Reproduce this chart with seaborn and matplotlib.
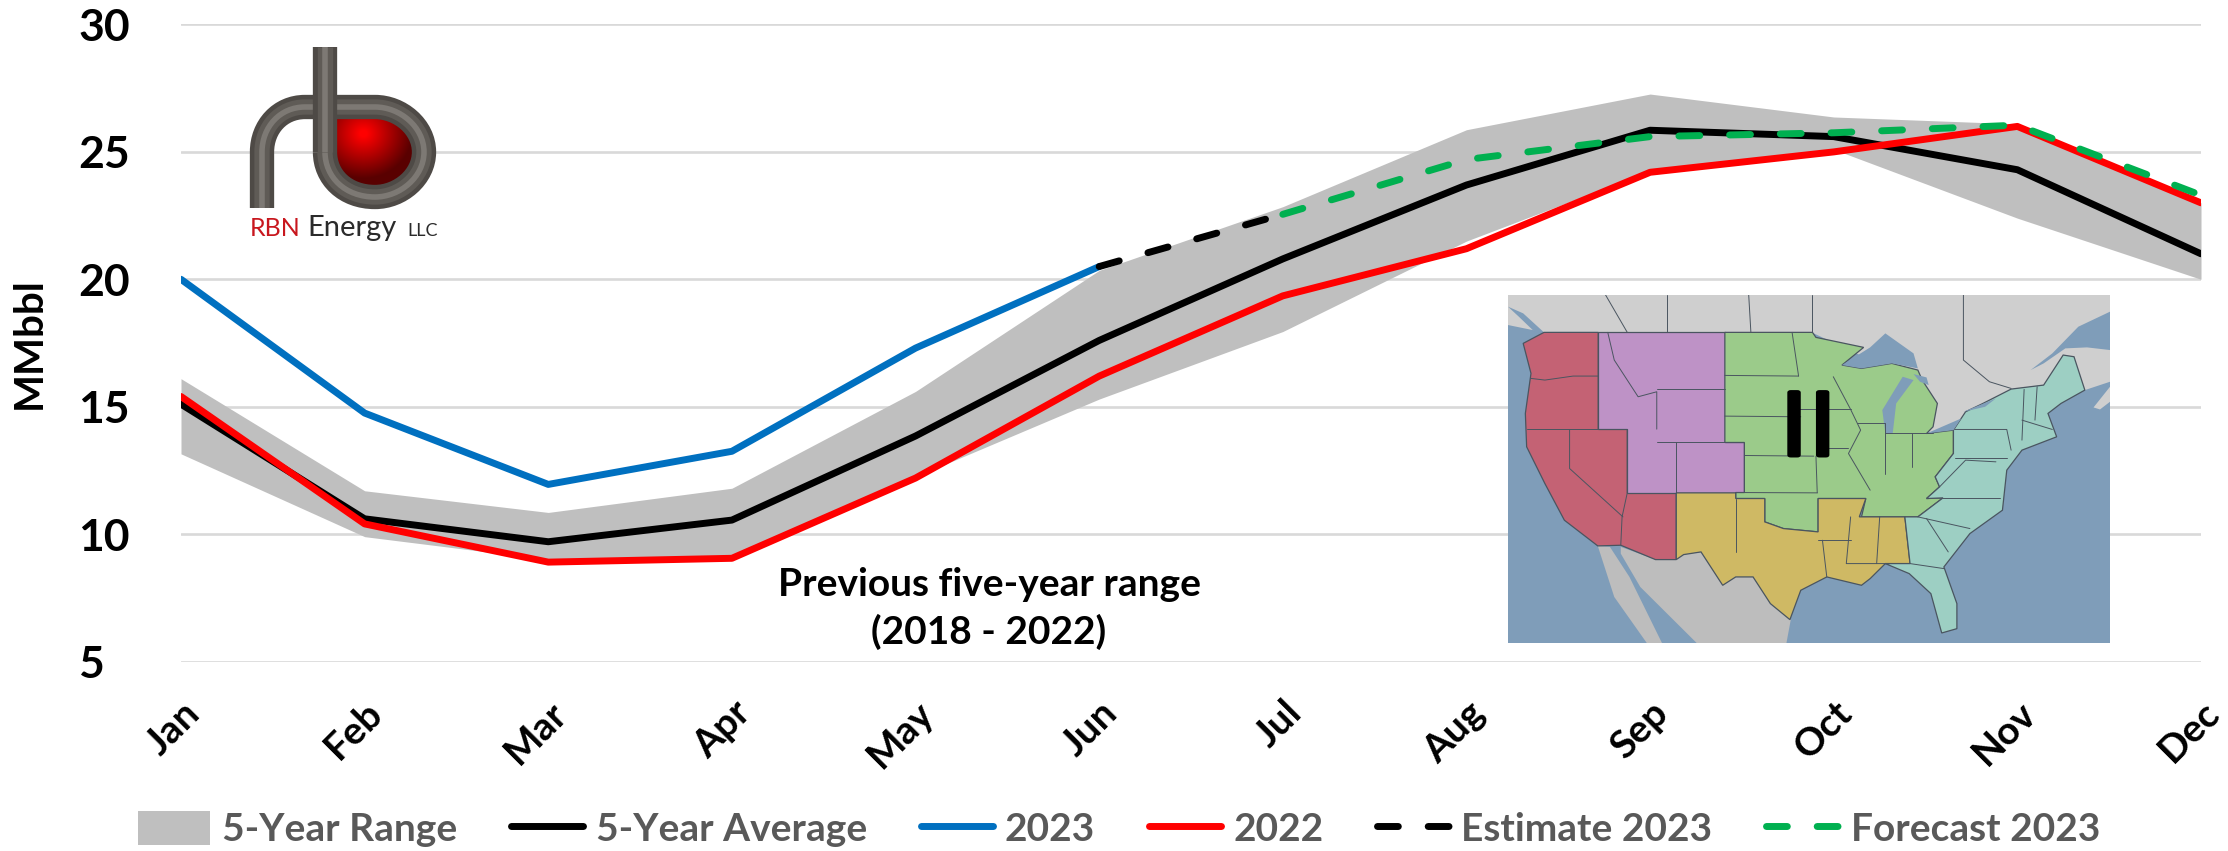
import numpy as np
import pandas as pd
import seaborn as sns
import matplotlib.pyplot as plt
from matplotlib.lines import Line2D
from matplotlib.patches import Patch, Polygon, FancyBboxPatch, PathPatch
from matplotlib.path import Path

sns.set_theme(style="white")
plt.rcParams['font.family'] = ['Lato', 'DejaVu Sans']

months = ['Jan', 'Feb', 'Mar', 'Apr', 'May', 'Jun', 'Jul', 'Aug', 'Sep', 'Oct', 'Nov', 'Dec']
range_high = [16.1, 11.7, 10.85, 11.8, 15.6, 20.35, 22.85, 25.87, 27.27, 26.37, 26.1, 23.0]
range_low = [13.15, 9.9, 9.0, 9.05, 12.25, 15.3, 17.95, 21.5, 24.25, 25.1, 22.4, 20.0]
avg_5yr = [15.1, 10.6, 9.7, 10.55, 13.85, 17.6, 20.8, 23.7, 25.85, 25.6, 24.3, 21.0]
y2022 = [15.4, 10.4, 8.9, 9.05, 12.2, 16.2, 19.35, 21.2, 24.2, 25.0, 26.0, 23.0]
y2023 = [20.0, 14.75, 11.95, 13.25, 17.3, 20.5]
estimate_2023 = [20.5, 22.55]
forecast_2023 = [22.55, 24.7, 25.6, 25.75, 26.05, 23.3]
yticks = [5, 10, 15, 20, 25, 30]

W, H = 2228, 851
GREY = '#bfbfbf'
BLACK = '#000000'
BLUE = '#0070c0'
RED = '#ff0000'
GREEN = '#00b050'
TXT = '#595959'


def px_axes(x0, y0, x1, y1, **kw):
    # axes box given in image pixels, y from the top
    return fig.add_axes([x0 / W, 1 - y1 / H, (x1 - x0) / W, (y1 - y0) / H], **kw)


fig = plt.figure(figsize=(W / 100, H / 100), dpi=100)
ax = px_axes(181, 24.5, 2201, 661.5)

xpos = np.arange(len(months))
ax.fill_between(xpos, range_low, range_high, color=GREY, lw=0, zorder=2)

df = pd.DataFrame({'x': xpos, 'avg': avg_5yr, 'y2022': y2022})
dash = (0, (3, 4.3))
sns.lineplot(data=df, x='x', y='avg', color=BLACK, lw=5, ax=ax, errorbar=None, zorder=3)
sns.lineplot(x=xpos[:6], y=y2023, color=BLUE, lw=5, ax=ax, errorbar=None, zorder=3)
sns.lineplot(data=df, x='x', y='y2022', color=RED, lw=5, ax=ax, errorbar=None, zorder=4)
sns.lineplot(x=xpos[5:7], y=estimate_2023, color=BLACK, lw=5, ax=ax, errorbar=None, zorder=4,
             linestyle=dash, dash_capstyle='round')
sns.lineplot(x=xpos[6:], y=forecast_2023, color=GREEN, lw=5, ax=ax, errorbar=None, zorder=5,
             linestyle=dash, dash_capstyle='round')

ax.set_xlim(0, 11)
ax.set_ylim(5, 30)
ax.set_yticks(yticks)
ax.set_xticks(xpos)
ax.set_xticklabels(months, rotation=45, ha='right', rotation_mode='anchor',
                   fontsize=28, fontweight='bold', color='black')
ax.set_yticklabels([str(v) for v in yticks], fontsize=32, fontweight='bold', color='black', ha='left')
ax.tick_params(axis='y', length=0, pad=74)
ax.tick_params(axis='x', length=0, pad=24)
ax.grid(axis='y', color='#d9d9d9', lw=1.9)
ax.set_axisbelow(True)
ax.set_xlabel('')
ax.set_ylabel('MMbbl', fontsize=29, fontweight='bold', color='black')
ax.yaxis.set_label_coords(-0.066, 0.5)
sns.despine(ax=ax, left=True, bottom=True)
for lab in ax.get_xticklabels():
    lab.set_clip_on(False)

ax.text(4.4, 7.07, 'Previous five-year range\n(2018 - 2022)', ha='center', va='center',
        fontsize=28, fontweight='bold', color='black', linespacing=1.4, zorder=6)

handles = [
    Patch(color=GREY, lw=0),
    Line2D([], [], color=BLACK, lw=5),
    Line2D([], [], color=BLUE, lw=5),
    Line2D([], [], color=RED, lw=5),
    Line2D([], [], color=BLACK, lw=5, linestyle=dash, dash_capstyle='round'),
    Line2D([], [], color=GREEN, lw=5, linestyle=dash, dash_capstyle='round'),
]
labels = ['5-Year Range', '5-Year Average', '2023', '2022', 'Estimate 2023', 'Forecast 2023']
leg = fig.legend(handles, labels, loc='center', bbox_to_anchor=(1119 / W, 1 - 829 / H), ncol=6,
                 frameon=False, fontsize=28, handlelength=1.85, handleheight=1.0, handletextpad=0.32,
                 columnspacing=1.38, borderpad=0)
for t in leg.get_texts():
    t.set_color(TXT)
    t.set_fontweight('bold')

# map inset, coordinates in the crop of the picture
mp = px_axes(1508, 295, 2110, 643, zorder=8)
mp.set_xlim(65, 1453)
mp.set_ylim(1118, 75)
mp.axis('off')
OCEAN = '#7f9db9'
mp.add_patch(Polygon([(65, 75), (1453, 75), (1453, 1118), (65, 1118)], fc=OCEAN, lw=0))
canada = [(65, 75), (1453, 75), (1453, 335), (1395, 360), (1300, 345), (1225, 357), (1100, 480),
          (1030, 490), (950, 300), (765, 187), (148, 187), (65, 165)]
mp.add_patch(Polygon(canada, fc='#cfcfcf', lw=0))
mp.add_patch(Polygon([(1415, 412), (1453, 350), (1453, 395), (1430, 418)], fc='#cfcfcf', lw=0))
mp.add_patch(Polygon([(1270, 300), (1320, 250), (1380, 170), (1453, 125), (1453, 240), (1400, 232),
                      (1350, 235), (1300, 280)], fc=OCEAN, lw=0))
mp.add_patch(Polygon([(65, 110), (100, 130), (148, 187), (130, 190), (90, 140)], fc=OCEAN, lw=0))
mexico = [(325, 830), (405, 868), (453, 868), (470, 853), (510, 845), (560, 945), (590, 920),
          (630, 920), (670, 1000), (717, 1048), (707, 1118), (500, 1118), (370, 950), (325, 850)]
mp.add_patch(Polygon(mexico, fc='#bdbdbd', lw=0))
baja = [(272, 827), (300, 830), (345, 920), (420, 1118), (385, 1118), (310, 980)]
mp.add_patch(Polygon(baja, fc='#bdbdbd', lw=0))

regions = {
    '#c46274': [(148, 187), (273, 187), (273, 477), (340, 477), (340, 668), (453, 668), (453, 868),
                (405, 868), (325, 825), (272, 827), (195, 750), (150, 640), (108, 530), (105, 430),
                (118, 310), (100, 220)],
    '#be92c6': [(273, 187), (565, 187), (565, 517), (610, 517), (610, 667), (340, 667), (340, 477),
                (273, 477)],
    '#9bcb8a': [(565, 187), (767, 187), (775, 202), (885, 232), (835, 285), (880, 295), (950, 280),
                (1010, 300), (1020, 330), (1055, 400), (1045, 470), (1030, 490), (1092, 480),
                (1092, 550), (1050, 620), (1060, 650), (1030, 685), (1068, 683), (1010, 740),
                (880, 740), (890, 685), (780, 685), (780, 785), (700, 775), (657, 755), (657, 685),
                (590, 685), (590, 667), (610, 667), (610, 517), (565, 517)],
    '#cfb964': [(453, 668), (590, 668), (590, 685), (657, 685), (657, 755), (700, 775), (780, 785),
                (780, 685), (890, 685), (875, 740), (980, 740), (992, 880), (935, 880), (900, 925),
                (880, 945), (800, 920), (740, 960), (715, 1048), (670, 1000), (630, 920), (590, 920),
                (560, 945), (510, 845), (470, 853), (453, 868)],
    '#9dcfc3': [(980, 740), (1010, 740), (1068, 683), (1030, 685), (1060, 650), (1050, 620),
                (1092, 550), (1092, 480), (1120, 425), (1160, 400), (1225, 357), (1300, 345),
                (1345, 255), (1370, 260), (1395, 360), (1340, 400), (1310, 430), (1330, 500),
                (1250, 540), (1215, 600), (1205, 720), (1130, 790), (1070, 890), (1100, 1000),
                (1100, 1075), (1065, 1088), (1040, 970), (990, 910), (935, 880), (992, 880)],
}
for fc, pts in regions.items():
    mp.add_patch(Polygon(pts, fc=fc, ec='#4a5560', lw=0.9))

lakes = [
    [(835, 285), (900, 232), (935, 190), (1000, 250), (1010, 295), (950, 280), (880, 295)],
    [(935, 490), (928, 420), (975, 320), (1000, 330), (960, 400), (952, 490)],
    [(1000, 312), (1030, 322), (1035, 345), (1015, 335)],
    [(1030, 490), (1110, 445), (1092, 480)],
    [(1115, 425), (1190, 385), (1165, 410)],
]
for pts in lakes:
    mp.add_patch(Polygon(pts, fc=OCEAN, lw=0))

borders = [
    [(118, 325), (150, 330), (215, 318), (273, 318)], [(108, 478), (340, 478)], [(207, 478), (207, 595), (330, 740)],
    [(340, 668), (328, 740), (325, 825)], [(295, 187), (310, 270), (365, 380), (408, 365), (408, 477)],
    [(408, 357), (565, 357)], [(408, 517), (565, 517)], [(453, 517), (453, 668)],
    [(720, 187), (735, 318)], [(565, 316), (735, 318)], [(565, 438), (740, 440)], [(610, 556), (770, 558)],
    [(775, 558), (778, 668)], [(590, 667), (778, 668)], [(815, 320), (855, 418), (878, 480), (850, 550), (900, 660)],
    [(730, 418), (855, 418)], [(775, 535), (850, 535)], [(870, 458), (935, 458), (935, 610)], [(935, 488), (1045, 488)],
    [(997, 488), (997, 590)], [(590, 685), (590, 845)], [(780, 810), (855, 810)], [(855, 740), (845, 880), (935, 880)],
    [(922, 740), (915, 880)], [(790, 810), (800, 920)], [(1255, 358), (1250, 510)], [(1095, 478), (1215, 478), (1225, 540)],
    [(1095, 565), (1215, 565)], [(1065, 683), (1200, 683)], [(1010, 740), (1130, 775)], [(1030, 745), (1080, 845)],
    [(992, 880), (1070, 895)], [(1060, 650), (1120, 570), (1190, 575)], [(1285, 350), (1280, 450)], [(1250, 450), (1320, 478)],
    [(1115, 75), (1115, 270), (1175, 335), (1225, 355)], [(432, 75), (432, 187)], [(620, 75), (625, 187)], [(765, 75), (765, 187)],
    [(290, 75), (340, 187)],
]
for seg in borders:
    xs, ys = zip(*seg)
    mp.plot(xs, ys, color='#4a5560', lw=0.7, solid_capstyle='round')

for bx in (709, 775):
    mp.add_patch(FancyBboxPatch((bx + 8, 368), 15, 186, boxstyle='round,pad=8', fc='black', lw=0, zorder=5))

# logo, axes in picture pixels
lg = px_axes(240, 40, 450, 245, zorder=7)
lg.axis('off')
lg.patch.set_alpha(0)

gy, gx = np.mgrid[100:205, 325:430]
dist = np.hypot((gx - 363) / 52, (gy - 133) / 48)
shade = np.zeros(gx.shape + (3,))
shade[..., 0] = np.clip(1.05 - 0.75 * dist, 0.35, 1)
ball = lg.imshow(shade, extent=(325, 430, 205, 100), aspect='auto', zorder=1)
loop = Path([(325, 107), (375, 107), (400, 107), (424, 127), (424, 152), (424, 177), (400, 197), (375, 197),
             (345, 197), (325, 177), (325, 152), (325, 107)],
            [Path.MOVETO, Path.LINETO, Path.CURVE4, Path.CURVE4, Path.CURVE4, Path.CURVE4, Path.CURVE4, Path.CURVE4,
             Path.CURVE4, Path.CURVE4, Path.CURVE4, Path.LINETO])
clip = PathPatch(loop, transform=lg.transData, fc='none', lw=0)
lg.add_patch(clip)
ball.set_clip_path(clip)
lg.set_xlim(240, 450)
lg.set_ylim(245, 40)

pipe = Path([(262, 208), (262, 152), (262, 127), (280, 107), (305, 107), (375, 107),
             (400, 107), (424, 127), (424, 152), (424, 177), (400, 197), (375, 197),
             (345, 197), (325, 177), (325, 152)],
            [Path.MOVETO, Path.LINETO, Path.CURVE4, Path.CURVE4, Path.CURVE4, Path.LINETO,
             Path.CURVE4, Path.CURVE4, Path.CURVE4, Path.CURVE4, Path.CURVE4, Path.CURVE4,
             Path.CURVE4, Path.CURVE4, Path.CURVE4])
stem = Path([(325, 152), (325, 47)], [Path.MOVETO, Path.LINETO])
for part, z in ((pipe, 3), (stem, 4)):
    for w, c in [(17.5, '#4e4a46'), (11, '#5f5b56'), (4, '#7d7974')]:
        lg.add_patch(PathPatch(part, fc='none', ec=c, lw=w, capstyle='butt', joinstyle='round', zorder=z))

lg.text(250, 228, 'RBN', color='#c8171e', fontsize=18, va='center', ha='left')
lg.text(307, 228, 'Energy', color='#2b2b2b', fontsize=21, va='center', ha='left')
lg.text(407, 231, 'LLC', color='#2b2b2b', fontsize=13, va='center', ha='left')

fig.savefig('out.png', dpi=100)
